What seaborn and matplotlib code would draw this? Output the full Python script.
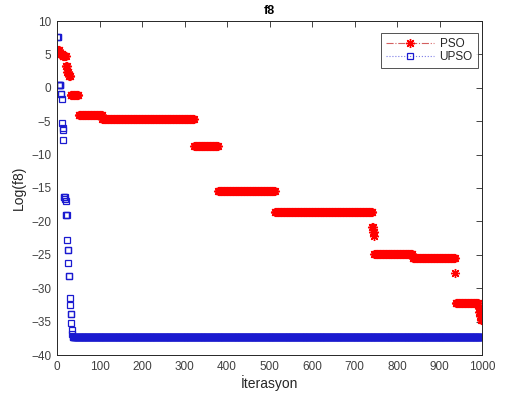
import numpy as np
import pandas as pd
import matplotlib
matplotlib.use("Agg")
import matplotlib.pyplot as plt
from matplotlib.lines import Line2D
import seaborn as sns

# PSO: step values and how many iterations each value lasts
pso_values = [5.6, 5.1, 4.7, 3.3, 2.3, 1.8, -1.1, -4.1, -4.6, -8.7, -15.5, -18.6,
              -20.9, -21.6, -22.2, -24.9, -25.5, -27.7, -32.2, -33.0, -33.6, -34.2, -34.7]
pso_counts = [5, 7, 8, 3, 4, 4, 19, 56, 216, 56, 134, 229,
              2, 2, 1, 90, 100, 1, 54, 2, 2, 2, 3]

# UPSO: step values and run lengths
upso_values = [7.6, 0.4, -1.0, -1.7, -5.3, -6.0, -6.3, -7.8, -16.3, -16.6, -17.0, -19.0,
               -22.8, -24.3, -26.2, -28.2, -31.4, -32.5, -33.9, -35.2, -36.2, -36.9, -37.35]
upso_counts = [3, 5, 2, 1, 1, 1, 1, 1, 3, 1, 1, 3,
               1, 2, 1, 2, 1, 1, 2, 1, 1, 1, 964]

iterations = np.arange(1, 1001)
pso = np.repeat(pso_values, pso_counts)[:1000]
upso = np.repeat(upso_values, upso_counts)[:1000]

df = pd.DataFrame({"Iter": iterations, "PSO": pso, "UPSO": upso})

sns.set_style("white")
plt.rcParams['font.family'] = ['Liberation Sans', 'DejaVu Sans']

fig = plt.figure(figsize=(5.08, 4.05), dpi=100)
ax = fig.add_axes([57/508, 1-355/405, (482-57)/508, (355-21)/405])

star = (8, 2, 0)
pso_line_color = "#d46060"
upso_line_color = "#7a7ae6"

sns.lineplot(data=df, x="Iter", y="PSO", ax=ax, estimator=None, sort=False,
             color="red", linestyle="", linewidth=0,
             marker=star, markersize=6.5, markerfacecolor="red", markeredgecolor="red",
             markeredgewidth=1.0, legend=False)
sns.lineplot(data=df, x="Iter", y="UPSO", ax=ax, estimator=None, sort=False,
             color="#1a1ad0", linestyle="", linewidth=0,
             marker="s", markersize=4.2, markerfacecolor="none", markeredgecolor="#1a1ad0",
             markeredgewidth=0.9, legend=False)

ax.set_xlim(0, 1000)
ax.set_ylim(-40, 10)
ax.set_xticks(np.arange(0, 1001, 100))
ax.set_yticks(np.arange(-40, 11, 5))
ax.tick_params(direction="in", top=True, right=True, labelsize=8.5,
               length=4, width=0.6, colors="#262626", labelcolor="#404040", pad=4)
for s in ax.spines.values():
    s.set_color("#262626")
    s.set_linewidth(0.7)

ax.set_title("f8", fontsize=9, fontweight="bold", color="black", pad=5)
ax.set_xlabel("İterasyon", fontsize=10, color="#262626", labelpad=2)
ax.set_ylabel("Log(f8)", fontsize=10, color="#262626", labelpad=4)

handles = [
    Line2D([0], [0], color=pso_line_color, linestyle="-.", linewidth=0.8,
           marker=star, markersize=6.5, markerfacecolor="red", markeredgecolor="red",
           markeredgewidth=1.0),
    Line2D([0], [0], color=upso_line_color, linestyle=":", linewidth=0.8,
           marker="s", markersize=4.2, markerfacecolor="none", markeredgecolor="#1a1ad0",
           markeredgewidth=0.9),
]
leg = ax.legend(handles, ["PSO", "UPSO"], loc="upper right",
                bbox_to_anchor=((478 - 57) / 425, (355 - 33) / 334),
                borderaxespad=0, fontsize=8.5, frameon=True, fancybox=False,
                handlelength=4.0, borderpad=0.45, labelspacing=0.05, handletextpad=0.5)
leg.get_frame().set_edgecolor("#262626")
leg.get_frame().set_linewidth(0.7)

fig.savefig("out.png", dpi=100)
